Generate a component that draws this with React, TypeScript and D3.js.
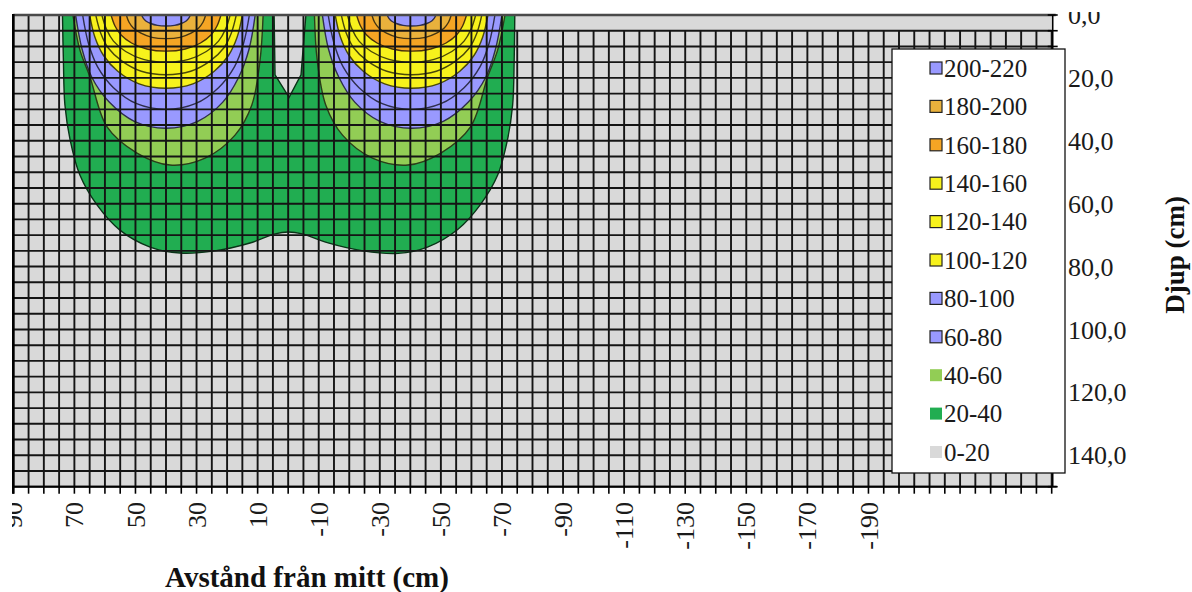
import React from "react";
import * as d3 from "d3";

const W = 1192;
const H = 592;

// axis labels
const xTickLabels = [90, 70, 50, 30, 10, -10, -30, -50, -70, -90, -110, -130, -150, -170, -190];
const yTickLabels = [0, 20, 40, 60, 80, 100, 120, 140];

// legend (top to bottom)
const legendLabels = ["200-220", "180-200", "160-180", "140-160", "120-140", "100-120", "80-100", "60-80", "40-60", "20-40", "0-20"];
const legendColors = ["#9999ff", "#e9b13c", "#f5a524", "#f7f21c", "#f7f21c", "#f7f21c", "#9999ff", "#9999ff", "#92cd55", "#21ad51", "#d9d9d9"];
const legendOutlined = [true, true, true, true, true, true, true, true, false, false, false];

// contour 20: [distance cm, depth cm], read around the outside of both lobes
const outer20 = [
  [73.9, 0], [73.6, 14.3], [73.1, 28.6], [71.4, 39.7], [68.2, 50.9], [62.6, 60.4], [55.1, 68.4],
  [45.2, 73.8], [35.4, 75.7], [24, 75], [12.5, 72.5], [4.3, 69.6], [0, 69], [-4.6, 69.6],
  [-12.8, 72.4], [-24.5, 75], [-36, 75.8], [-45.6, 73.8], [-55.5, 68.2], [-63, 60.2],
  [-68.6, 50.9], [-71.8, 39.7], [-73.5, 28.6], [-74, 14.3], [-74.2, 0],
];
// gap in the middle, along the surface (right to left)
const notch20 = [[-74.2, 0], [-5.8, 0], [-4.2, 19], [-0.3, 26.2], [4.3, 19], [4.6, 0], [73.9, 0]];

// lobe contours, west (positive distance) and east (negative distance)
const west40 = [[70.5, 0], [68.2, 11.1], [64.9, 19.7], [59.3, 35.6], [49.5, 43.9], [38.7, 47.7], [27.2, 45.5], [17.4, 38.2], [11.9, 28.6], [9.2, 14.3], [8.2, 0]];
const east40 = [[-8.6, 0], [-9.5, 14.3], [-12.3, 28.6], [-17.8, 38.2], [-27.6, 45.5], [-39.2, 47.7], [-50, 43.9], [-59.7, 35.6], [-65.3, 19.7], [-68.6, 11.1], [-71, 0]];
const west60 = [[69.6, 0], [67.5, 10.8], [64.3, 19.8], [58.6, 27.7], [50.4, 33.8], [40, 36], [29.6, 33.8], [21.4, 27.7], [16.2, 19.8], [12.8, 10.8], [10.8, 0]];
const east60 = [[-11.2, 0], [-13.2, 10.8], [-16.6, 19.8], [-21.8, 27.7], [-30, 33.8], [-40.4, 36], [-50.8, 33.8], [-59, 27.7], [-64.7, 19.8], [-67.9, 10.8], [-70, 0]];
const west80 = [[67.3, 0], [65.4, 9], [62.4, 16.5], [57.2, 23.1], [49.6, 28.2], [40, 30], [30.4, 28.2], [22.8, 23.1], [17.6, 16.5], [14.6, 9], [12.7, 0]];
const east80 = [[-13.1, 0], [-15, 9], [-18, 16.5], [-23.2, 23.1], [-30.8, 28.2], [-40.4, 30], [-50, 28.2], [-57.6, 23.1], [-62.8, 16.5], [-65.8, 9], [-67.7, 0]];
const west100 = [[65, 0], [63.3, 7], [60.5, 12.8], [55.8, 17.9], [48.8, 21.9], [40, 23.3], [31.2, 21.9], [24.2, 17.9], [19.5, 12.8], [16.7, 7], [15, 0]];
const east100 = [[-15.4, 0], [-17.1, 7], [-19.9, 12.8], [-24.6, 17.9], [-31.6, 21.9], [-40.4, 23.3], [-49.2, 21.9], [-56.2, 17.9], [-60.9, 12.8], [-63.7, 7], [-65.4, 0]];
const west120 = [[63, 0], [61.4, 5.7], [58.9, 10.5], [54.5, 14.6], [48.1, 17.9], [40, 19], [31.9, 17.9], [25.5, 14.6], [21.1, 10.5], [18.6, 5.7], [17, 0]];
const east120 = [[-17.4, 0], [-19, 5.7], [-21.5, 10.5], [-25.9, 14.6], [-32.3, 17.9], [-40.4, 19], [-48.5, 17.9], [-54.9, 14.6], [-59.3, 10.5], [-61.8, 5.7], [-63.4, 0]];
const west140 = [[61, 0], [59.5, 4.5], [57.2, 8.3], [53.2, 11.6], [47.4, 14.1], [40, 15], [32.6, 14.1], [26.8, 11.6], [22.8, 8.3], [20.5, 4.5], [19, 0]];
const east140 = [[-19.4, 0], [-20.9, 4.5], [-23.2, 8.3], [-27.2, 11.6], [-33, 14.1], [-40.4, 15], [-47.8, 14.1], [-53.6, 11.6], [-57.6, 8.3], [-59.9, 4.5], [-61.4, 0]];
const west160 = [[58, 0], [56.7, 3.5], [54.8, 6.3], [51.3, 8.9], [46.3, 10.8], [40, 11.5], [33.7, 10.8], [28.7, 8.9], [25.2, 6.3], [23.3, 3.5], [22, 0]];
const east160 = [[-22.4, 0], [-23.7, 3.5], [-25.6, 6.3], [-29.1, 8.9], [-34.1, 10.8], [-40.4, 11.5], [-46.7, 10.8], [-51.7, 8.9], [-55.2, 6.3], [-57.1, 3.5], [-58.4, 0]];
const west180 = [[53, 0], [52.1, 2.3], [50.7, 4.1], [48.2, 5.8], [44.6, 7.1], [40, 7.5], [35.4, 7.1], [31.8, 5.8], [29.3, 4.1], [27.9, 2.3], [27, 0]];
const east180 = [[-27.4, 0], [-28.3, 2.3], [-29.7, 4.1], [-32.2, 5.8], [-35.8, 7.1], [-40.4, 7.5], [-45, 7.1], [-48.6, 5.8], [-51.1, 4.1], [-52.5, 2.3], [-53.4, 0]];
const west200 = [[48, 0], [47.4, 1.1], [46.6, 1.9], [45, 2.7], [42.8, 3.3], [40, 3.5], [37.2, 3.3], [35, 2.7], [33.4, 1.9], [32.6, 1.1], [32, 0]];
const east200 = [[-32.4, 0], [-33, 1.1], [-33.8, 1.9], [-35.4, 2.7], [-37.6, 3.3], [-40.4, 3.5], [-43.2, 3.3], [-45.4, 2.7], [-47, 1.9], [-47.8, 1.1], [-48.4, 0]];

const lobeLevels = [40, 60, 80, 100, 120, 140, 160, 180, 200];
const lobesWest = [west40, west60, west80, west100, west120, west140, west160, west180, west200];
const lobesEast = [east40, east60, east80, east100, east120, east140, east160, east180, east200];
const lobeFills = ["#92cd55", "#9999ff", "#9999ff", "#f7f21c", "#f7f21c", "#f7f21c", "#f5a524", "#e9b13c", "#9999ff"];
const outerFill = "#21ad51";
const bgFill = "#d9d9d9";

const font = "'Liberation Serif', 'Times New Roman', serif";

export default function App() {
  const x = d3.scaleLinear().domain([90, -250]).range([13.3, 1051.7]);
  const y = d3.scaleLinear().domain([0, 150]).range([15, 486.7]);

  const smooth = d3
    .line<number[]>()
    .x((d) => x(d[0]))
    .y((d) => y(d[1]))
    .curve(d3.curveCatmullRom.alpha(0.5));
  const straight = d3
    .line<number[]>()
    .x((d) => x(d[0]))
    .y((d) => y(d[1]));

  const outerPath = smooth(outer20) + (straight(notch20) || "").replace(/^M/, "L") + "Z";

  const gridX = d3.range(90, -251, -5);
  const gridY = d3.range(0, 151, 5);
  const [x0, x1] = x.range();
  const [y0, y1] = y.range();

  const dark = (c: string) => d3.color(c)!.darker(3.4).formatHex();

  return (
    <svg width={W} height={H} style={{ position: "absolute", left: 0, top: 0, background: "#fff" }} fontFamily={font}>
      <defs>
        <clipPath id="plot">
          <rect x={x0} y={y0} width={x1 - x0} height={y1 - y0} />
        </clipPath>
        <clipPath id="page">
          <rect x={12} y={12} width={W - 12} height={H - 12} />
        </clipPath>
      </defs>

      <rect x={x0} y={y0} width={x1 - x0} height={y1 - y0} fill={bgFill} />

      <g clipPath="url(#plot)">
        <path d={outerPath} fill={outerFill} stroke={dark(outerFill)} strokeWidth={1.4} />
        {lobeLevels.map((lv, i) => (
          <g key={lv}>
            <path d={smooth(lobesWest[i]) + "Z"} fill={lobeFills[i]} stroke={dark(lobeFills[i])} strokeWidth={1.4} />
            <path d={smooth(lobesEast[i]) + "Z"} fill={lobeFills[i]} stroke={dark(lobeFills[i])} strokeWidth={1.4} />
          </g>
        ))}
      </g>

      {/* grid */}
      <g stroke="#141414" strokeWidth={1.9}>
        {gridX.map((v) => (
          <line key={"gx" + v} x1={x(v)} x2={x(v)} y1={v < -73 ? y(5) : y0} y2={y1} />
        ))}
        {gridY.map((v) => (
          <line key={"gy" + v} x1={x0} x2={x1} y1={y(v)} y2={y(v)} />
        ))}
      </g>
      <line x1={x0} x2={x1 + 4} y1={y0} y2={y0} stroke="#4a4a4a" strokeWidth={2.6} />

      {/* axes */}
      <line x1={x0} x2={x0} y1={y0 - 1} y2={y1 + 7} stroke="#000" strokeWidth={2.6} />
      <line x1={x0} x2={x1 + 5} y1={y1} y2={y1} stroke="#000" strokeWidth={1.8} />
      <g stroke="#000" strokeWidth={1.6}>
        {gridX.map((v) => (
          <line key={"tx" + v} x1={x(v)} x2={x(v)} y1={y1} y2={y1 + 7} />
        ))}
      </g>
      <line x1={x1 + 1} x2={x1 + 1} y1={y0} y2={y1} stroke="#000" strokeWidth={1.6} />
      <g stroke="#000" strokeWidth={1.6}>
        {gridY.map((v) => (
          <line key={"ty" + v} x1={x1 - 4} x2={x1 + 6} y1={y(v)} y2={y(v)} />
        ))}
      </g>

      <g clipPath="url(#page)" fill="#1a1a1a">
        {/* x labels */}
        <g fontSize={26}>
          {xTickLabels.map((v) => (
            <text key={"xl" + v} transform={`translate(${x(v)},502) rotate(-90)`} textAnchor="end" dy="0.35em">
              {v}
            </text>
          ))}
        </g>
        {/* y labels */}
        <g fontSize={26}>
          {yTickLabels.map((v) => (
            <text key={"yl" + v} x={1068} y={y(v)} dy="0.35em">
              {d3.format(".1f")(v).replace(".", ",")}
            </text>
          ))}
        </g>
      </g>

      {/* legend */}
      <rect x={892} y={49} width={173} height={424} fill="#fff" stroke="#111" strokeWidth={1.3} />
      {legendLabels.map((lab, i) => {
        const cy = 68 + i * 38.4;
        return (
          <g key={lab}>
            <rect
              x={930}
              y={cy - 6}
              width={12}
              height={12}
              fill={legendColors[i]}
              stroke={legendOutlined[i] ? "#222" : "none"}
              strokeWidth={1.2}
            />
            <text x={944} y={cy} dy="0.35em" fontSize={25} fill="#1a1a1a">
              {lab}
            </text>
          </g>
        );
      })}

      {/* titles */}
      <text x={307} y={587} textAnchor="middle" fontSize={29} fontWeight="bold" fill="#111">
        Avstånd från mitt (cm)
      </text>
      <text transform="translate(1175,255) rotate(-90)" textAnchor="middle" dy="0.33em" fontSize={27} fontWeight="bold" fill="#111">
        Djup (cm)
      </text>
    </svg>
  );
}
